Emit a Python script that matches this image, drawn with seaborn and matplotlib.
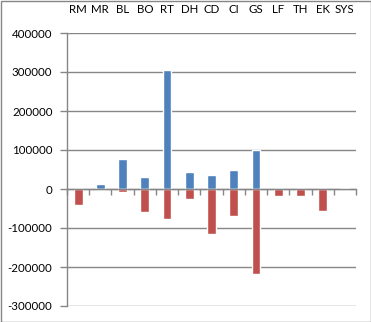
import matplotlib
matplotlib.use("Agg")
import matplotlib.pyplot as plt
import seaborn as sns
import pandas as pd
import numpy as np
from matplotlib.patches import Rectangle
from matplotlib.ticker import MultipleLocator, FixedLocator

categories = ["RM", "MR", "BL", "BO", "RT", "DH", "CD", "CI", "GS", "LF", "TH", "EK", "SYS"]
positive = [0, 14000, 77000, 31000, 304000, 44000, 37000, 49000, 100000, 0, 0, 0, 3000]
negative = [-42000, 0, -7000, -60000, -78000, -25000, -116000, -68000, -219000, -19000, -19000, -57000, 0]
series_names = ["Positive", "Negative"]
yticks = [-300000, -200000, -100000, 0, 100000, 200000, 300000, 400000]

blue = "#4F81BD"
red = "#C0504D"
gray = "#868686"

df = pd.DataFrame({
    "cat": categories * 2,
    "value": positive + negative,
    "series": [series_names[0]] * len(categories) + [series_names[1]] * len(categories),
})

sns.set_style("white")
plt.rcParams["font.family"] = ["Lato", "DejaVu Sans"]

fig = plt.figure(figsize=(3.71, 3.22), dpi=100)
ax = fig.add_axes([67 / 371, 1 - 306 / 322, (356 - 67) / 371, (306 - 33) / 322])

sns.barplot(data=df, x="cat", y="value", hue="series", order=categories,
            hue_order=series_names, palette=[blue, red], dodge=False,
            width=0.4, legend=False, ax=ax, saturation=1)

ax.set_xlim(-0.5, len(categories) - 0.5)
ax.set_ylim(yticks[0], yticks[-1])
ax.set_yticks(yticks)
ax.set_yticklabels([str(v) for v in yticks])
ax.set_xlabel("")
ax.set_ylabel("")

ax.yaxis.grid(True, color=gray, linewidth=1)
ax.set_axisbelow(True)

for s in ["top", "right"]:
    ax.spines[s].set_visible(False)
ax.spines["left"].set_color(gray)
ax.spines["left"].set_linewidth(1)
ax.spines["bottom"].set_position(("data", 0))
ax.spines["bottom"].set_color(gray)
ax.spines["bottom"].set_linewidth(1)

ax.xaxis.set_minor_locator(FixedLocator(np.arange(len(categories) + 1) - 0.5))
ax.tick_params(axis="x", which="major", bottom=False, top=False,
               labelbottom=False, labeltop=True, pad=9.5, labelsize=8.3,
               labelcolor="black")
ax.tick_params(axis="x", which="minor", bottom=True, top=False, direction="out",
               length=4, width=1, color=gray)
ax.tick_params(axis="y", which="major", left=True, direction="out", length=5,
               width=1, color=gray, pad=5.5, labelsize=8.3, labelcolor="black")

fig.patches.append(Rectangle((0.5 / 371, 0.5 / 322), 1 - 1.0 / 371, 1 - 1.0 / 322,
                             transform=fig.transFigure, fill=False,
                             edgecolor=gray, linewidth=1))

fig.savefig("out.png", dpi=100)
